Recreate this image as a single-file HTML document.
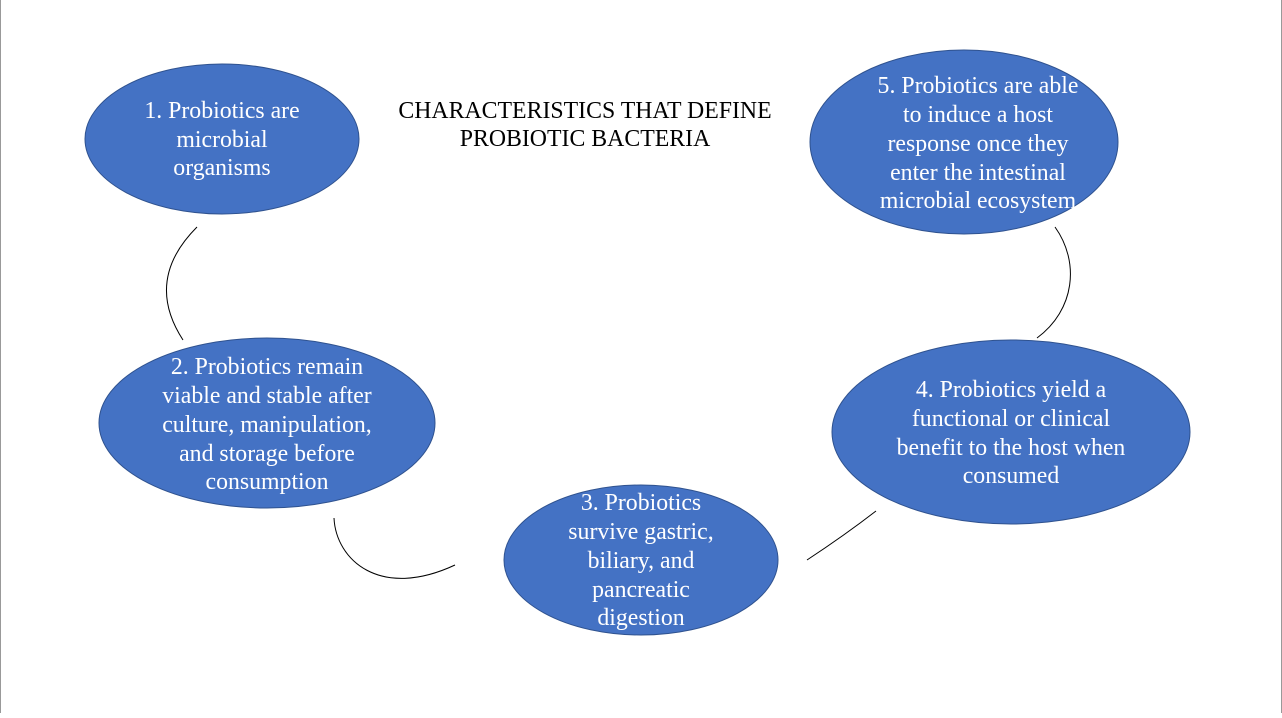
<!DOCTYPE html>
<html><head><meta charset="utf-8"><style>
html,body{margin:0;padding:0;background:#fff;}
body{width:1282px;height:713px;overflow:hidden;}
svg text{font-family:"Liberation Serif",serif;font-size:23.8px;}
</style></head><body>
<svg width="1282" height="713" viewBox="0 0 1282 713" xmlns="http://www.w3.org/2000/svg">
<rect x="0.5" y="-1" width="1281" height="716" fill="#fff" stroke="#999" stroke-width="1"/>
<g fill="#4472C4" stroke="#2F528F" stroke-width="1">
<ellipse cx="222" cy="139" rx="137" ry="75"/>
<ellipse cx="267" cy="423" rx="168" ry="85"/>
<ellipse cx="641" cy="560" rx="137" ry="75"/>
<ellipse cx="1011" cy="432" rx="179" ry="92"/>
<ellipse cx="964" cy="142" rx="154" ry="92"/>
</g>
<g fill="none" stroke="#000" stroke-width="1">
<path d="M197,227 Q144,280 183,340"/>
<path d="M334,518 C336,560 380,600 455,565"/>
<path d="M807,560 Q845,535 876,511"/>
<path d="M1055,227 C1080,262 1075,310 1037,338"/>
</g>
<g text-anchor="middle" fill="#000">
<text x="585" y="118">CHARACTERISTICS THAT DEFINE</text>
<text x="585" y="146">PROBIOTIC BACTERIA</text>
</g>
<g text-anchor="middle" fill="#fff">
<text x="222" y="118">1. Probiotics are</text>
<text x="222" y="147">microbial</text>
<text x="222" y="175">organisms</text>
<text x="267" y="374">2. Probiotics remain</text>
<text x="267" y="403">viable and stable after</text>
<text x="267" y="432">culture, manipulation,</text>
<text x="267" y="461">and storage before</text>
<text x="267" y="489">consumption</text>
<text x="641" y="510">3. Probiotics</text>
<text x="641" y="539">survive gastric,</text>
<text x="641" y="568">biliary, and</text>
<text x="641" y="597">pancreatic</text>
<text x="641" y="625">digestion</text>
<text x="1011" y="397">4. Probiotics yield a</text>
<text x="1011" y="426">functional or clinical</text>
<text x="1011" y="455">benefit to the host when</text>
<text x="1011" y="483">consumed</text>
<text x="978" y="93">5. Probiotics are able</text>
<text x="978" y="122">to induce a host</text>
<text x="978" y="151">response once they</text>
<text x="978" y="180">enter the intestinal</text>
<text x="978" y="208">microbial ecosystem</text>
</g>
</svg>
</body></html>
